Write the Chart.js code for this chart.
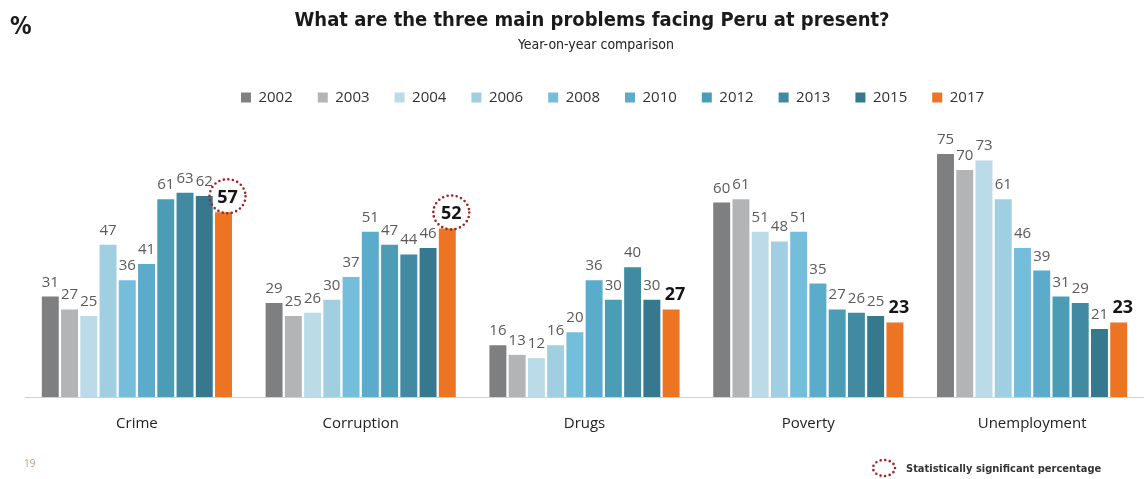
<!DOCTYPE html>
<html>
<head>
<meta charset="utf-8">
<script src="https://cdn.jsdelivr.net/npm/chart.js@4"></script>
<style>
  body { margin: 0; background: #fff; }
  #wrap { position: relative; width: 1144px; height: 479px; }
</style>
</head>
<body>
<div id="wrap"><canvas id="problemsChart"></canvas></div>
<script>
// Data
const categories = ['Crime', 'Corruption', 'Drugs', 'Poverty', 'Unemployment'];
const years = ['2002', '2003', '2004', '2006', '2008', '2010', '2012', '2013', '2015', '2017'];
const yearColors = ['#7e7f81', '#b3b4b6', '#bcdbe8', '#a0cfe2', '#74bedc', '#5babca', '#4b9db6', '#418aa1', '#36798f', '#ed7423'];

const values2002 = [31, 29, 16, 60, 75];
const values2003 = [27, 25, 13, 61, 70];
const values2004 = [25, 26, 12, 51, 73];
const values2006 = [47, 30, 16, 48, 61];
const values2008 = [36, 37, 20, 51, 46];
const values2010 = [41, 51, 36, 35, 39];
const values2012 = [61, 47, 30, 27, 31];
const values2013 = [63, 44, 40, 26, 29];
const values2015 = [62, 46, 30, 25, 21];
const values2017 = [57, 52, 27, 23, 23];
const significant = [true, true, false, false, false];

const seriesValues = [values2002, values2003, values2004, values2006, values2008,
                      values2010, values2012, values2013, values2015, values2017];

const baseFont = '"Open Sans", "Noto Sans", sans-serif';
const narrowFont = '"Liberation Sans Narrow", "DejaVu Sans Condensed", "Open Sans", sans-serif';

function dottedEllipse(ctx, cx, cy, rx, ry) {
    ctx.save();
    ctx.strokeStyle = '#a3222a';
    ctx.lineWidth = 2.6;
    ctx.lineCap = 'round';
    ctx.setLineDash([0, 4.6]);
    ctx.beginPath();
    ctx.ellipse(cx, cy, rx, ry, 0, 0, Math.PI * 2);
    ctx.stroke();
    ctx.restore();
}

const decorPlugin = {
    id: 'decor',
    afterLayout(chart) {
        // legend sits a little right of centre in the original
        chart.legend.left += 22;
        chart.legend.right += 22;
    },
    afterDatasetsDraw(chart) {
        const ctx = chart.ctx;
        ctx.save();
        ctx.textAlign = 'center';
        ctx.textBaseline = 'alphabetic';
        chart.data.datasets.forEach((ds, i) => {
            const meta = chart.getDatasetMeta(i);
            const last = i === chart.data.datasets.length - 1;
            meta.data.forEach((bar, j) => {
                if (last) {
                    ctx.font = 'bold 18px ' + baseFont;
                    ctx.fillStyle = '#151515';
                    ctx.fillText(ds.data[j], bar.x + 4, bar.y - 9);
                    if (significant[j]) dottedEllipse(ctx, bar.x + 4, bar.y - 16, 18, 17);
                } else {
                    ctx.font = '15px ' + baseFont;
                    ctx.fillStyle = '#5a5a5a';
                    ctx.fillText(ds.data[j], bar.x, bar.y - 10);
                }
            });
        });
        ctx.restore();
    },
    afterDraw(chart) {
        const ctx = chart.ctx;
        ctx.save();
        ctx.fillStyle = '#1a1a1a';
        ctx.textBaseline = 'alphabetic';
        ctx.textAlign = 'left';
        ctx.font = 'bold 24px ' + narrowFont;
        ctx.fillText('%', 10, 34);
        ctx.textAlign = 'center';
        ctx.font = 'bold 20px ' + narrowFont;
        ctx.fillText('What are the three main problems facing Peru at present?', 592, 26);
        ctx.font = '14px ' + narrowFont;
        ctx.fillStyle = '#222';
        ctx.fillText('Year-on-year comparison', 596, 49);

        ctx.textAlign = 'left';
        ctx.font = '10px ' + baseFont;
        ctx.fillStyle = '#c49a86';
        ctx.fillText('19', 24, 467);

        dottedEllipse(ctx, 884, 468, 11, 8);
        ctx.font = 'bold 11px ' + narrowFont;
        ctx.fillStyle = '#333';
        ctx.fillText('Statistically significant percentage', 906, 472);
        ctx.restore();
    }
};

new Chart(document.getElementById('problemsChart'), {
    type: 'bar',
    data: {
        labels: categories,
        datasets: years.map((year, i) => ({
            label: year,
            data: seriesValues[i],
            backgroundColor: yearColors[i],
            categoryPercentage: 0.86,
            barPercentage: 0.88
        }))
    },
    options: {
        responsive: true,
        maintainAspectRatio: false,
        animation: false,
        layout: { padding: { top: 65, left: 25, right: -12, bottom: 36 } },
        plugins: {
            legend: {
                position: 'top',
                labels: {
                    boxWidth: 10,
                    boxHeight: 10,
                    padding: 25,
                    color: '#333',
                    font: { family: baseFont, size: 15 }
                }
            },
            tooltip: { enabled: false }
        },
        scales: {
            x: {
                grid: { display: false },
                border: { color: '#d0d0d0' },
                ticks: { color: '#222', padding: 10, font: { family: baseFont, size: 15 } }
            },
            y: {
                display: false,
                min: 0,
                max: 87
            }
        }
    },
    plugins: [decorPlugin]
});
</script>
</body>
</html>
